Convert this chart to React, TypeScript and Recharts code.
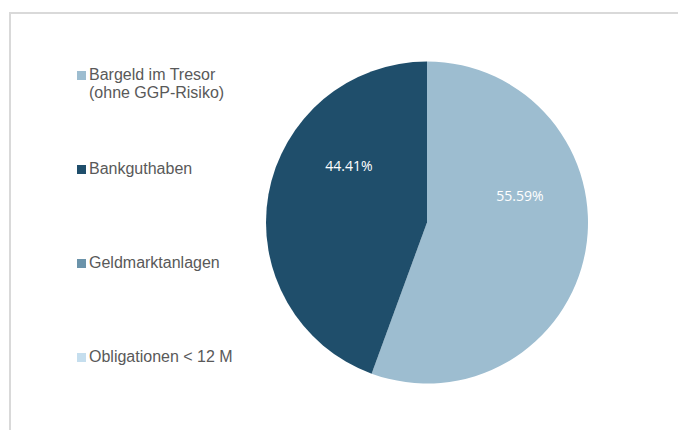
import React from "react";
import { PieChart, Pie, Cell, Legend } from "recharts";

const categories = [
  "Bargeld im Tresor\n(ohne GGP-Risiko)",
  "Bankguthaben",
  "Geldmarktanlagen",
  "Obligationen < 12 M",
];
const shares = [55.59, 44.41, 0, 0];
const colors = ["#9DBDD0", "#1F4E6B", "#6B93AA", "#C5DEEE"];

const data = categories.map((name, i) => ({ name, value: shares[i] }));

const RADIAN = Math.PI / 180;

const renderLabel = (props: any) => {
  const { cx, cy, midAngle, outerRadius, value } = props;
  if (!value) return null;
  let m = ((midAngle % 360) + 360) % 360;
  if (m > 270) m -= 360;
  const shift = 26;
  const a = m < 90 ? m + shift : m - shift;
  const r = outerRadius * 0.6;
  const x = cx + r * Math.cos(-a * RADIAN);
  const y = cy + r * Math.sin(-a * RADIAN);
  return (
    <text
      x={x}
      y={y}
      fill="#FFFFFF"
      textAnchor="middle"
      dominantBaseline="central"
      fontFamily="'Open Sans', sans-serif"
      fontSize={14}
    >
      {value.toFixed(2) + "%"}
    </text>
  );
};

const renderLegend = () => (
  <div style={{ fontFamily: "'Liberation Sans', Arial, sans-serif", fontSize: 16, color: "#595959" }}>
    {categories.map((c, i) => (
      <div key={i} style={{ height: 94, display: "flex", alignItems: "flex-start" }}>
        <div
          style={{
            width: 9,
            height: 9,
            background: colors[i],
            marginTop: 4.5,
            marginRight: 3,
            flex: "none",
          }}
        />
        <div style={{ whiteSpace: "pre", lineHeight: "17.3px" }}>{c}</div>
      </div>
    ))}
  </div>
);

export default function App() {
  return (
    <div
      style={{
        position: "fixed",
        left: 0,
        top: 0,
        width: 678,
        height: 430,
        overflow: "hidden",
        background: "#FFFFFF",
      }}
    >
      <div
        style={{
          position: "absolute",
          left: 9,
          top: 12,
          width: 700,
          height: 460,
          borderTop: "2px solid #D9D9D9",
          borderLeft: "2px solid #D9D9D9",
        }}
      />
      <div style={{ position: "absolute", left: 0, top: 0 }}>
        <PieChart width={678} height={430} margin={{ top: 0, right: 0, bottom: 0, left: 0 }}>
          <Pie
            data={data}
            dataKey="value"
            nameKey="name"
            cx={427}
            cy={222.5}
            outerRadius={161}
            startAngle={90}
            endAngle={-270}
            stroke="none"
            isAnimationActive={false}
            label={renderLabel}
            labelLine={false}
          >
            {data.map((d, i) => (
              <Cell key={i} fill={colors[i]} />
            ))}
          </Pie>
          <Legend
            content={renderLegend}
            layout="vertical"
            wrapperStyle={{ position: "absolute", left: 77, top: 66.3, width: 200 }}
          />
        </PieChart>
      </div>
    </div>
  );
}
